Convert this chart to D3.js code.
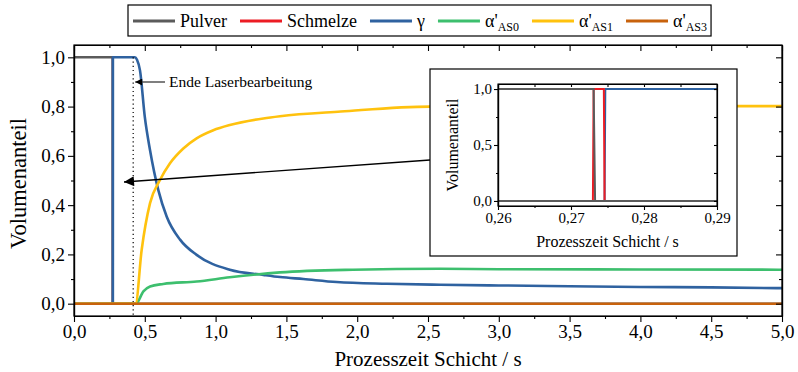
<!DOCTYPE html>
<html>
<head>
<meta charset="utf-8">
<script src="https://cdn.jsdelivr.net/npm/d3@7"></script>
<style>
  html, body { margin: 0; padding: 0; background: #fff; }
  svg { display: block; }
  svg text { font-family: 'Liberation Serif', 'DejaVu Serif', serif; }
</style>
</head>
<body>
<svg id="chart" width="798" height="372"></svg>
<script>
// Phase fractions of one layer over process time
const seriesNames = ["Pulver", "Schmelze", "γ", "α'AS0", "α'AS1", "α'AS3"];
const seriesColors = ["#5b5b5b", "#ec1c24", "#2f62a0", "#3dbf6e", "#ffc20e", "#c8620c"];

const pulverT = [0, 0.2731, 0.2733, 5.0];
const pulverV = [1, 1, 0, 0];

const schmelzeT = [0, 0.2731, 0.2733, 0.2744, 0.2746, 5.0];
const schmelzeV = [0, 0, 1, 1, 0, 0];

const gammaT = [0, 0.2745, 0.2747, 0.43, 0.445, 0.466, 0.50, 0.537, 0.596, 0.655, 0.749, 0.866, 1.10, 1.337, 1.455, 1.62, 1.855, 2.21, 2.585, 3.0, 3.5, 4.0, 4.5, 5.0];
const gammaV = [0, 0, 1, 1, 0.99, 0.947, 0.758, 0.623, 0.46, 0.353, 0.26, 0.198, 0.138, 0.117, 0.108, 0.10, 0.088, 0.081, 0.077, 0.074, 0.071, 0.068, 0.066, 0.063];

const as0T = [0, 0.437, 0.49, 0.537, 0.63, 0.866, 1.10, 1.455, 1.97, 2.585, 3.0, 4.0, 5.0];
const as0V = [0, 0, 0.05, 0.07, 0.08, 0.09, 0.107, 0.127, 0.138, 0.142, 0.14, 0.139, 0.138];

const as1T = [0, 0.435, 0.478, 0.537, 0.607, 0.678, 0.772, 0.866, 0.984, 1.10, 1.337, 1.455, 1.884, 2.514, 3.0, 3.5, 4.0, 4.5, 5.0];
const as1V = [0, 0, 0.219, 0.408, 0.502, 0.57, 0.63, 0.671, 0.704, 0.725, 0.752, 0.761, 0.78, 0.80, 0.80, 0.801, 0.802, 0.802, 0.802];

const as3T = [0, 5.0];
const as3V = [0, 0];

// Zoomed window around the melting event
const insetPulverT = [0.26, 0.2731, 0.2733, 0.29];
const insetPulverV = [1, 1, 0, 0];
const insetSchmelzeT = [0.26, 0.2730, 0.2731, 0.2745, 0.2746, 0.29];
const insetSchmelzeV = [0, 0, 1, 1, 0, 0];
const insetGammaT = [0.26, 0.2746, 0.2747, 0.29];
const insetGammaV = [0, 0, 1, 1];

const xTicks = [0, 0.5, 1, 1.5, 2, 2.5, 3, 3.5, 4, 4.5, 5];
const yTicks = [0, 0.2, 0.4, 0.6, 0.8, 1.0];
const insetXTicks = [0.26, 0.27, 0.28, 0.29];
const insetYTicks = [0, 0.5, 1.0];

const markerTime = 0.418; // end of laser processing

const zip = (t, v) => t.map((d, i) => ({ t: d, v: v[i] }));
const comma = f => d => d3.format(f)(d).replace(".", ",");

const svg = d3.select("#chart");
const font = "'Liberation Serif', 'DejaVu Serif', serif";

// ---------- main plot ----------
const M = { left: 74, right: 782, top: 45, bottom: 316 };
const x = d3.scaleLinear().domain([0, 5]).range([M.left, M.right]);
const y = d3.scaleLinear().domain([-0.05, 1.05]).range([M.bottom, M.top]);

const line = d3.line().x(d => x(d.t)).y(d => y(d.v)).curve(d3.curveMonotoneX);

const mainData = [
  zip(pulverT, pulverV), zip(schmelzeT, schmelzeV), zip(gammaT, gammaV),
  zip(as0T, as0V), zip(as1T, as1V), zip(as3T, as3V)
];

const plot = svg.append("g");
plot.append("defs").append("clipPath").attr("id", "clipMain")
  .append("rect").attr("x", M.left).attr("y", M.top)
  .attr("width", M.right - M.left).attr("height", M.bottom - M.top);

const curves = plot.append("g").attr("clip-path", "url(#clipMain)");
mainData.forEach((d, i) => {
  curves.append("path").datum(d)
    .attr("fill", "none")
    .attr("stroke", seriesColors[i])
    .attr("stroke-width", i === 1 ? 1.6 : 2.6)
    .attr("stroke-linejoin", "round")
    .attr("d", line);
});

// dotted marker line
plot.append("line")
  .attr("x1", x(markerTime)).attr("x2", x(markerTime))
  .attr("y1", y(1.0)).attr("y2", M.bottom)
  .attr("stroke", "#000").attr("stroke-width", 1.2)
  .attr("stroke-dasharray", "1.2,3");

// axes
function styleAxis(g) {
  g.selectAll("path").attr("stroke", "#000").attr("stroke-width", 1.2);
  g.selectAll("line").attr("stroke", "#000").attr("stroke-width", 1.1);
  g.attr("font-family", font);
}
const minorX = d3.range(0, 5.001, 0.25).filter(v => Math.abs(v * 2 - Math.round(v * 2)) > 1e-6);
const minorY = d3.range(-0.0, 1.0001, 0.1).filter(v => Math.abs(v * 5 - Math.round(v * 5)) > 1e-6);

const gx = plot.append("g").attr("transform", `translate(0,${M.bottom})`)
  .call(d3.axisBottom(x).tickValues(xTicks).tickFormat(comma(".1f")).tickSize(6).tickSizeOuter(0).tickPadding(3));
plot.append("g").attr("transform", `translate(0,${M.bottom})`)
  .call(d3.axisBottom(x).tickValues(minorX).tickFormat("").tickSize(3).tickSizeOuter(0)).call(styleAxis);
gx.call(styleAxis);
gx.selectAll("text").attr("font-family", font).attr("font-size", 19).attr("fill", "#000");

const gy = plot.append("g").attr("transform", `translate(${M.left},0)`)
  .call(d3.axisLeft(y).tickValues(yTicks).tickFormat(comma(".1f")).tickSize(6).tickSizeOuter(0).tickPadding(3));
plot.append("g").attr("transform", `translate(${M.left},0)`)
  .call(d3.axisLeft(y).tickValues(minorY).tickFormat("").tickSize(3).tickSizeOuter(0)).call(styleAxis);
gy.call(styleAxis);
gy.selectAll("text").attr("font-family", font).attr("font-size", 19).attr("fill", "#000");

// top and right frame with inward ticks
const gt = plot.append("g").attr("transform", `translate(0,${M.top})`)
  .call(d3.axisTop(x).tickValues(xTicks).tickFormat("").tickSize(-6).tickSizeOuter(0));
plot.append("g").attr("transform", `translate(0,${M.top})`)
  .call(d3.axisTop(x).tickValues(minorX).tickFormat("").tickSize(-3).tickSizeOuter(0)).call(styleAxis);
gt.call(styleAxis);
const gr = plot.append("g").attr("transform", `translate(${M.right},0)`)
  .call(d3.axisRight(y).tickValues(yTicks).tickFormat("").tickSize(-6).tickSizeOuter(0));
plot.append("g").attr("transform", `translate(${M.right},0)`)
  .call(d3.axisRight(y).tickValues(minorY).tickFormat("").tickSize(-3).tickSizeOuter(0)).call(styleAxis);
gr.call(styleAxis);
plot.append("rect").attr("x", M.left).attr("y", M.top)
  .attr("width", M.right - M.left).attr("height", M.bottom - M.top)
  .attr("fill", "none").attr("stroke", "#000").attr("stroke-width", 1.2);

// axis titles
svg.append("text").attr("x", (M.left + M.right) / 2).attr("y", 366)
  .attr("text-anchor", "middle").attr("font-family", font).attr("font-size", 21)
  .text("Prozesszeit Schicht / s");
svg.append("text").attr("transform", `translate(26,${(M.top + M.bottom) / 2 + 3}) rotate(-90)`)
  .attr("text-anchor", "middle").attr("font-family", font).attr("font-size", 22.5)
  .text("Volumenanteil");

// arrow markers
const defs = svg.append("defs");
defs.append("marker").attr("id", "headSmall").attr("viewBox", "0 0 10 10")
  .attr("refX", 10).attr("refY", 5).attr("markerWidth", 9).attr("markerHeight", 7)
  .attr("markerUnits", "userSpaceOnUse").attr("orient", "auto")
  .append("path").attr("d", "M0,0 L10,5 L0,10 Z").attr("fill", "#000");
defs.append("marker").attr("id", "headBig").attr("viewBox", "0 0 10 10")
  .attr("refX", 10).attr("refY", 5).attr("markerWidth", 23).attr("markerHeight", 10)
  .attr("markerUnits", "userSpaceOnUse").attr("orient", "auto")
  .append("path").attr("d", "M0,0 L10,5 L0,10 Z").attr("fill", "#000");

// "Ende Laserbearbeitung" annotation
const annY = 82;
svg.append("line").attr("x1", 165).attr("y1", annY).attr("x2", x(markerTime) + 2).attr("y2", annY)
  .attr("stroke", "#555").attr("stroke-width", 1.5).attr("marker-end", "url(#headSmall)");
svg.append("text").attr("x", 169).attr("y", annY + 5)
  .attr("font-family", font).attr("font-size", 15.5).text("Ende Laserbearbeitung");

// ---------- inset ----------
const IB = { x: 430, y: 69, w: 307, h: 187 };
const I = { left: 498, right: 717, top: 84, bottom: 206 };
const ix = d3.scaleLinear().domain([0.26, 0.29]).range([I.left, I.right]);
const iy = d3.scaleLinear().domain([-0.045, 1.045]).range([I.bottom, I.top]);

// pointer from the inset to the melting event
svg.append("line").attr("x1", IB.x).attr("y1", 160).attr("x2", 124).attr("y2", 182)
  .attr("stroke", "#000").attr("stroke-width", 1.3).attr("marker-end", "url(#headBig)");

const inset = svg.append("g");
inset.append("rect").attr("x", IB.x).attr("y", IB.y).attr("width", IB.w).attr("height", IB.h)
  .attr("fill", "#fff").attr("stroke", "#000").attr("stroke-width", 1.2);

const iline = d3.line().x(d => ix(d.t)).y(d => iy(d.v));
const insetData = [
  { d: zip(insetGammaT, insetGammaV), c: seriesColors[2] },
  { d: zip(insetSchmelzeT, insetSchmelzeV), c: seriesColors[1] },
  { d: zip(insetPulverT, insetPulverV), c: seriesColors[0] }
];
insetData.forEach(s => {
  inset.append("path").datum(s.d).attr("fill", "none").attr("stroke", s.c)
    .attr("stroke-width", 2).attr("d", iline);
});
// zero baseline of the inset
inset.append("line").attr("x1", I.left).attr("x2", I.right)
  .attr("y1", iy(0)).attr("y2", iy(0))
  .attr("stroke", seriesColors[0]).attr("stroke-width", 2);

const iMinorX = [0.265, 0.275, 0.285];
const iMinorY = [0.25, 0.75];
const igx = inset.append("g").attr("transform", `translate(0,${I.bottom})`)
  .call(d3.axisBottom(ix).tickValues(insetXTicks).tickFormat(comma(".2f")).tickSize(4).tickSizeOuter(0).tickPadding(2));
inset.append("g").attr("transform", `translate(0,${I.bottom})`)
  .call(d3.axisBottom(ix).tickValues(iMinorX).tickFormat("").tickSize(2).tickSizeOuter(0)).call(styleAxis);
igx.call(styleAxis);
igx.selectAll("text").attr("font-family", font).attr("font-size", 15).attr("fill", "#000");
const igy = inset.append("g").attr("transform", `translate(${I.left},0)`)
  .call(d3.axisLeft(iy).tickValues(insetYTicks).tickFormat(comma(".1f")).tickSize(4).tickSizeOuter(0).tickPadding(2));
inset.append("g").attr("transform", `translate(${I.left},0)`)
  .call(d3.axisLeft(iy).tickValues(iMinorY).tickFormat("").tickSize(2).tickSizeOuter(0)).call(styleAxis);
igy.call(styleAxis);
igy.selectAll("text").attr("font-family", font).attr("font-size", 15).attr("fill", "#000");
inset.append("g").attr("transform", `translate(0,${I.top})`)
  .call(d3.axisTop(ix).tickValues(insetXTicks.concat(iMinorX)).tickFormat("").tickSize(-3).tickSizeOuter(0)).call(styleAxis);
inset.append("g").attr("transform", `translate(${I.right},0)`)
  .call(d3.axisRight(iy).tickValues(insetYTicks.concat(iMinorY)).tickFormat("").tickSize(-3).tickSizeOuter(0)).call(styleAxis);
inset.append("rect").attr("x", I.left).attr("y", I.top)
  .attr("width", I.right - I.left).attr("height", I.bottom - I.top)
  .attr("fill", "none").attr("stroke", "#000").attr("stroke-width", 1.1);
inset.append("text").attr("x", (I.left + I.right) / 2).attr("y", 247)
  .attr("text-anchor", "middle").attr("font-family", font).attr("font-size", 16)
  .text("Prozesszeit Schicht / s");
inset.append("text").attr("transform", `translate(458,${(I.top + I.bottom) / 2}) rotate(-90)`)
  .attr("text-anchor", "middle").attr("font-family", font).attr("font-size", 16)
  .text("Volumenanteil");

// ---------- legend ----------
const legend = svg.append("g");
const legBox = legend.append("rect").attr("y", 5).attr("height", 31)
  .attr("fill", "#fff").attr("stroke", "#000").attr("stroke-width", 1.2);
let lx = 133;
const legY = 21;
seriesNames.forEach((name, i) => {
  legend.append("line").attr("x1", lx).attr("x2", lx + 42).attr("y1", legY).attr("y2", legY)
    .attr("stroke", seriesColors[i]).attr("stroke-width", 3);
  const t = legend.append("text").attr("x", lx + 47).attr("y", legY + 6)
    .attr("font-family", font).attr("font-size", 18);
  if (name.startsWith("α'")) {
    t.append("tspan").text("α'");
    t.append("tspan").attr("font-size", 12).attr("dy", 4).text(name.slice(2));
  } else {
    t.text(name);
  }
  lx += 47 + t.node().getComputedTextLength() + 13;
});
legBox.attr("x", 128).attr("width", lx - 13 + 4 - 128);
</script>
</body>
</html>
